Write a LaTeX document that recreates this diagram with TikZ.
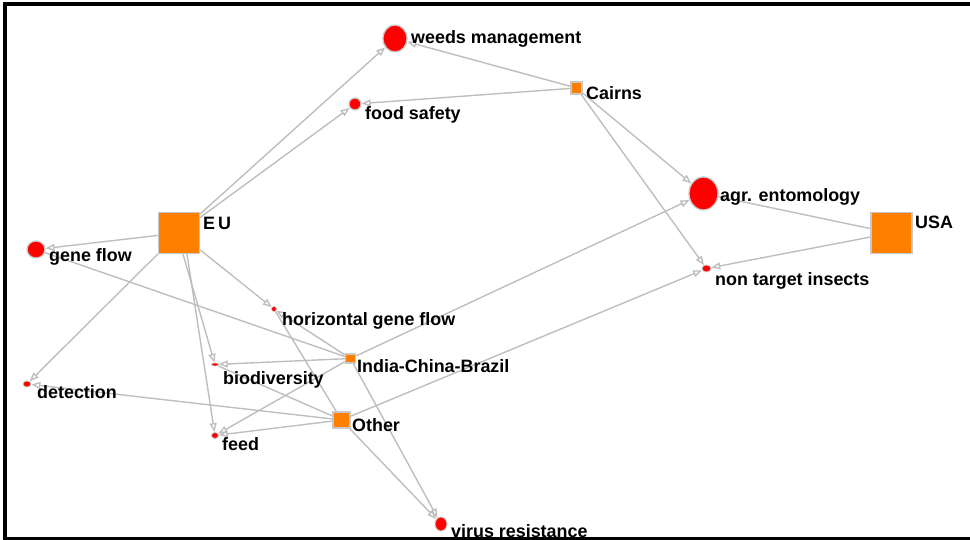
\documentclass[tikz,border=0pt]{standalone}
\usepackage{fontspec}
\setmainfont{Liberation Sans}
\usetikzlibrary{shapes.geometric,arrows.meta,backgrounds}
\definecolor{edgegray}{RGB}{190,190,190}
\definecolor{nodeborder}{RGB}{200,200,200}
\definecolor{orangeN}{RGB}{255,128,0}
\definecolor{redN}{RGB}{255,0,0}
\tikzset{
  topic/.style={ellipse, draw=nodeborder, fill=redN, line width=1.3pt, inner sep=0pt},
  country/.style={rectangle, draw=nodeborder, fill=orangeN, line width=1.3pt, inner sep=0pt},
  lbl/.style={anchor=base west, inner sep=0pt, font=\fontsize{17.9}{20}\selectfont\bfseries},
  edge/.style={draw=edgegray, line width=1.4pt, -{Triangle[open,length=9pt,width=7pt]}},
  plain/.style={draw=edgegray, line width=1.4pt},
}
\begin{document}
\begin{tikzpicture}[x=1pt,y=-1pt]
\useasboundingbox (0,0) rectangle (970,540);
% frame
\draw[line width=3.5pt] (972,4) -- (5,4) -- (5,538.5) -- (972,538.5);

% topic nodes
\node[topic, minimum width=24pt, minimum height=27pt] (weeds) at (395,38.5) {};
\node[topic, minimum width=12pt, minimum height=12pt] (food) at (355,104) {};
\node[topic, minimum width=29pt, minimum height=33pt] (agr) at (703.5,193.5) {};
\node[topic, minimum width=9pt, minimum height=7pt, line width=0.8pt] (ntarg) at (706.5,268.5) {};
\node[topic, minimum width=18pt, minimum height=17pt] (gene) at (36,249.5) {};
\node[topic, minimum width=5pt, minimum height=5pt, line width=0.6pt] (hgf) at (274,309) {};
\node[topic, minimum width=7pt, minimum height=3pt, line width=0.5pt] (bio) at (215,364.5) {};
\node[topic, minimum width=8pt, minimum height=6pt, line width=0.8pt] (det) at (27,384) {};
\node[topic, minimum width=7pt, minimum height=6pt, line width=0.8pt] (feed) at (215,435.5) {};
\node[topic, minimum width=12pt, minimum height=14pt, line width=1pt] (virus) at (441,524) {};

% country nodes
\node[country, minimum width=41pt, minimum height=41pt] (EU) at (179,233) {};
\node[country, minimum width=41pt, minimum height=41pt] (USA) at (891.5,233) {};
\node[country, minimum width=11pt, minimum height=12pt] (cairns) at (576.5,88) {};
\node[country, minimum width=10pt, minimum height=9pt] (icb) at (350.5,358.5) {};
\node[country, minimum width=17pt, minimum height=16pt] (other) at (341.5,420) {};

% edges
\begin{pgfonlayer}{background}
\draw[edge] (EU) -- (weeds);
\draw[edge] (EU) -- (food);
\draw[edge] (EU) -- (gene);
\draw[edge] (EU) -- (det);
\draw[edge] (EU) -- (hgf);
\draw[edge] (EU.south) ++(4,0) coordinate (EUb1) -- (bio);
\draw[edge] (EU.south) ++(8,0) coordinate (EUb2) -- (feed);
\draw[edge] (cairns) -- (weeds);
\draw[edge] (cairns) -- (food);
\draw[edge] (cairns) -- (agr);
\draw[edge] (cairns) -- (ntarg);
\draw[plain] (USA) -- (agr);
\draw[edge] (USA) -- (ntarg);
\draw[edge] (icb) -- (agr);
\draw[edge] (icb) -- (bio);
\draw[edge] (icb) -- (feed);
\draw[plain] (icb) -- (gene);
\draw[edge] (icb) -- (virus);
\draw[edge] (icb) -- (hgf);
\draw[edge] (other) -- (det);
\draw[plain] (other) -- (bio);
\draw[edge] (other) -- (feed);
\draw[edge] (other) -- (ntarg);
\draw[edge] (other) -- (virus);
\draw[plain] (other) -- (hgf);
\end{pgfonlayer}

% labels
\node[lbl] (weedsL) at (411,44) {weeds management};
\node[lbl] (foodL) at (365,120) {food safety};
\node[lbl] (cairnsL) at (586,100) {Cairns};
\node[lbl] (agrL) at (720,202) {agr. entomology};
\node[lbl] (USAL) at (915,229) {USA};
\node[lbl] (ntargL) at (715,286) {non target insects};
\node[lbl] (EUL) at (203,230) {E\,U};
\node[lbl] (geneL) at (49,262) {gene flow};
\node[lbl] (hgfL) at (282,326) {horizontal gene flow};
\node[lbl] (icbL) at (357,372) {India-China-Brazil};
\node[lbl] (bioL) at (223,384) {biodiversity};
\node[lbl] (detL) at (37,398) {detection};
\node[lbl] (otherL) at (352,431) {Other};
\node[lbl] (feedL) at (222,450) {feed};
\node[lbl] (virusL) at (451,537) {virus resistance};
\end{tikzpicture}
\end{document}
